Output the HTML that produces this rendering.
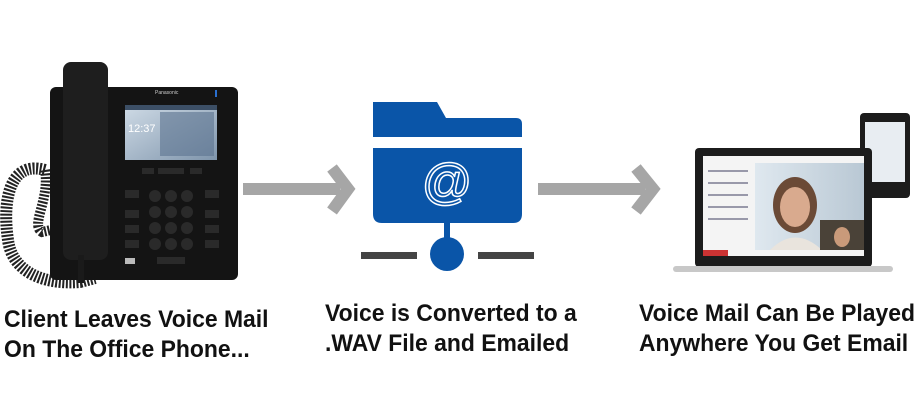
<!DOCTYPE html>
<html><head><meta charset="utf-8"><style>
html,body{margin:0;padding:0;background:#fff;width:920px;height:400px;overflow:hidden}
.t{position:absolute;font-family:"Liberation Sans",sans-serif;font-weight:bold;font-size:24px;line-height:30px;color:#111;transform:scaleX(0.955);transform-origin:left top;white-space:nowrap}
</style></head><body>
<svg width="920" height="400" style="position:absolute;left:0;top:0">
<defs>
<linearGradient id="scr" x1="0" y1="0" x2="1" y2="1"><stop offset="0" stop-color="#cfdbe6"/><stop offset="1" stop-color="#7f95ac"/></linearGradient>
<linearGradient id="bg2" x1="0" y1="0" x2="1" y2="0"><stop offset="0" stop-color="#dfe8ef"/><stop offset="1" stop-color="#b9c8d4"/></linearGradient>
</defs>
<!-- phone -->
<path d="M45 170 C10 160 2 200 8 240 C12 270 40 285 80 282 L95 278" fill="none" stroke="#222" stroke-width="12" stroke-dasharray="2 1.5"/>
<path d="M45 170 C50 200 30 225 42 232 L60 228" fill="none" stroke="#222" stroke-width="10" stroke-dasharray="2 1.5"/>
<rect x="50" y="87" width="188" height="193" rx="6" fill="#141414"/>
<rect x="63" y="62" width="45" height="198" rx="8" fill="#1e1e1e"/>
<rect x="78" y="255" width="6" height="28" fill="#1a1a1a"/>
<rect x="125" y="105" width="92" height="55" fill="url(#scr)"/>
<rect x="125" y="105" width="92" height="5" fill="#3c4f66"/>
<rect x="160" y="112" width="54" height="44" fill="#5b7390" opacity="0.6"/>
<text x="128" y="132" font-family="Liberation Sans" font-size="11" fill="#fff">12:37</text>
<text x="155" y="94" font-family="Liberation Sans" font-size="5" fill="#ccc">Panasonic</text>
<rect x="215" y="90" width="2" height="7" fill="#2a6fd0"/>
<g fill="#2a2a2a">
<rect x="142" y="168" width="12" height="6"/><rect x="158" y="168" width="26" height="6"/><rect x="190" y="168" width="12" height="6"/>
<rect x="125" y="190" width="14" height="8"/><rect x="125" y="210" width="14" height="8"/><rect x="125" y="225" width="14" height="8"/><rect x="125" y="240" width="14" height="8"/>
<rect x="205" y="190" width="14" height="8"/><rect x="205" y="210" width="14" height="8"/><rect x="205" y="225" width="14" height="8"/><rect x="205" y="240" width="14" height="8"/>
<circle cx="155" cy="196" r="6"/><circle cx="171" cy="196" r="6"/><circle cx="187" cy="196" r="6"/>
<circle cx="155" cy="212" r="6"/><circle cx="171" cy="212" r="6"/><circle cx="187" cy="212" r="6"/>
<circle cx="155" cy="228" r="6"/><circle cx="171" cy="228" r="6"/><circle cx="187" cy="228" r="6"/>
<circle cx="155" cy="244" r="6"/><circle cx="171" cy="244" r="6"/><circle cx="187" cy="244" r="6"/>
<rect x="157" y="257" width="28" height="7"/>
</g>
<rect x="125" y="258" width="10" height="6" fill="#bbb"/>
<!-- arrows -->
<g fill="none" stroke="#a6a6a6" stroke-width="12">
<path d="M243 189 H340"/><path d="M332 168 L348 189 L332 211"/>
<path d="M538 189 H645"/><path d="M636 168 L653 189 L636 211"/>
</g>
<!-- folder -->
<path d="M373 102 H437 L446 118 H516 Q522 118 522 124 V137 H373 Z" fill="#0a55a8"/>
<path d="M373 148 H522 V214 Q522 223 513 223 H382 Q373 223 373 214 Z" fill="#0a55a8"/>
<text x="447" y="199" text-anchor="middle" font-family="Liberation Sans" font-size="50" fill="#0a55a8" stroke="#fff" stroke-width="1.5">@</text>
<rect x="444" y="222" width="6" height="20" fill="#0a55a8"/>
<circle cx="447" cy="254" r="17" fill="#0a55a8"/>
<rect x="361" y="252" width="56" height="7" fill="#444"/>
<rect x="478" y="252" width="56" height="7" fill="#444"/>
<!-- tablet -->
<rect x="860" y="113" width="50" height="85" rx="4" fill="#1c1c1c"/>
<rect x="865" y="122" width="40" height="60" fill="#e8edf2"/>
<!-- laptop -->
<rect x="695" y="148" width="177" height="119" rx="4" fill="#1c1c1c"/>
<rect x="703" y="156" width="161" height="100" fill="#f4f4f4"/>
<rect x="755" y="163" width="109" height="87" fill="url(#bg2)"/>
<ellipse cx="795" cy="205" rx="22" ry="28" fill="#6b4a36"/>
<ellipse cx="795" cy="207" rx="15" ry="20" fill="#d9aa8e"/>
<path d="M770 250 Q795 225 822 250 Z" fill="#e9e4dd"/>
<rect x="820" y="220" width="44" height="30" fill="#4a4238"/>
<ellipse cx="842" cy="237" rx="8" ry="10" fill="#c99a7a"/>
<g fill="#99a">
<rect x="708" y="170" width="40" height="2"/><rect x="708" y="182" width="40" height="2"/><rect x="708" y="194" width="40" height="2"/><rect x="708" y="206" width="40" height="2"/><rect x="708" y="218" width="40" height="2"/>
</g>
<rect x="703" y="250" width="25" height="6" fill="#c33"/>
<rect x="673" y="266" width="220" height="6" rx="3" fill="#c8c8c8"/>
</svg>
<div class="t" style="left:4px;top:305px">Client Leaves Voice Mail<br>On The Office Phone...</div>
<div class="t" style="left:325px;top:299px">Voice is Converted to a<br>.WAV File and Emailed</div>
<div class="t" style="left:639px;top:299px">Voice Mail Can Be Played<br>Anywhere You Get Email</div>
</body></html>
